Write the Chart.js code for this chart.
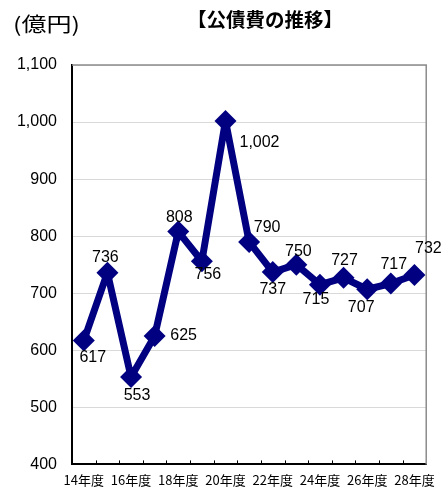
<!DOCTYPE html>
<html><head><meta charset="utf-8">
<script src="https://cdn.jsdelivr.net/npm/chart.js@4"></script>
<style>html,body{margin:0;padding:0;background:#fff;}#wrap{width:443px;height:489px;position:relative}</style>
</head><body><div id="wrap"><canvas id="c" width="443" height="489"></canvas></div>
<script>
const categories = ['14年度','15年度','16年度','17年度','18年度','19年度','20年度','21年度','22年度','23年度','24年度','25年度','26年度','27年度','28年度'];
const values = [617,736,553,625,808,756,1002,790,737,750,715,727,707,717,732];
const yTicks = [400,500,600,700,800,900,1000,1100];
const titleText = '【公債費の推移】';
const unitText = '(億円)';
const labelOffsets = [[9,17],[-2,-15],[6,18],[29,0],[1,-14],[6,13],[34,22],[18,-14],[0,17],[2,-13],[-4,15],[1,-17],[-6,18],[3,-19],[14,-26]];

const CJK = '"Noto Sans CJK JP", "Noto Sans", sans-serif';
const LAT = '"Liberation Sans", Arial, sans-serif';

function fitText(ctx, text, x, y, targetW) {
  const w = ctx.measureText(text).width;
  const sx = targetW / w;
  ctx.save();
  ctx.translate(x, y);
  ctx.scale(sx, 1);
  ctx.fillText(text, 0, 0);
  ctx.restore();
}

const decor = {
  id: 'decor',
  beforeDatasetsDraw(chart) {
    const ctx = chart.ctx;
    const a = chart.chartArea;
    ctx.save();
    ctx.strokeStyle = '#8c8c8c';
    ctx.lineWidth = 1.5;
    ctx.beginPath();
    ctx.moveTo(a.left, a.top); ctx.lineTo(a.right, a.top); ctx.lineTo(a.right, a.bottom);
    ctx.stroke();
    ctx.strokeStyle = '#000';
    ctx.lineWidth = 1;
    const step = (a.right - a.left) / categories.length;
    for (let i = 1; i < categories.length; i++) {
      const x = Math.round(a.left + step * i) + 0.5;
      ctx.beginPath(); ctx.moveTo(x, a.bottom); ctx.lineTo(x, a.bottom - 4); ctx.stroke();
    }
    ctx.restore();
  },
  afterDatasetsDraw(chart) {
    const ctx = chart.ctx;
    const meta = chart.getDatasetMeta(0);
    ctx.save();
    ctx.fillStyle = '#000';
    ctx.font = '16px ' + LAT;
    ctx.textAlign = 'center';
    ctx.textBaseline = 'middle';
    meta.data.forEach((pt, i) => {
      const o = labelOffsets[i];
      ctx.fillText(values[i].toLocaleString('en-US'), pt.x + o[0], pt.y + o[1]);
    });
    ctx.restore();
  },
  afterDraw(chart) {
    const ctx = chart.ctx;
    ctx.save();
    ctx.fillStyle = '#000';
    ctx.textBaseline = 'middle';
    ctx.textAlign = 'left';
    ctx.font = 'bold 19px ' + CJK;
    fitText(ctx, titleText, 187, 20, 156);
    ctx.font = '20px ' + CJK;
    fitText(ctx, unitText, 13, 24, 67);
    ctx.restore();
  }
};

new Chart(document.getElementById('c'), {
  type: 'line',
  data: {
    labels: categories,
    datasets: [{
      data: values,
      borderColor: '#000080',
      backgroundColor: '#000080',
      borderWidth: 7,
      borderJoinStyle: 'round',
      pointStyle: 'rectRot',
      pointRadius: 11,
      pointHoverRadius: 11,
      pointBorderWidth: 0,
      tension: 0,
      clip: false
    }]
  },
  options: {
    responsive: false,
    animation: false,
    events: [],
    layout: { padding: { top: 65, right: 11, left: 0, bottom: 0 } },
    plugins: { legend: { display: false }, title: { display: false }, tooltip: { enabled: false } },
    scales: {
      x: {
        offset: true,
        grid: { display: false, drawTicks: false },
        border: { display: true, color: '#000', width: 2 },
        ticks: {
          autoSkip: false, maxRotation: 0, minRotation: 0, padding: 8,
          color: '#000', font: { family: CJK, size: 13 },
          callback: (v, i) => (i % 2 === 0 ? categories[i] : '')
        },
        afterFit: s => { s.height = 24; }
      },
      y: {
        min: 400, max: 1100,
        afterBuildTicks: s => { s.ticks = yTicks.map(v => ({ value: v })); },
        grid: { color: '#d9d9d9', lineWidth: 1, drawTicks: false },
        border: { display: true, color: '#000', width: 2 },
        ticks: {
          padding: 15, color: '#000', font: { family: LAT, size: 16 },
          callback: v => Number(v).toLocaleString('en-US')
        },
        afterFit: s => { s.width = 72; }
      }
    }
  },
  plugins: [decor]
});
</script></body></html>
